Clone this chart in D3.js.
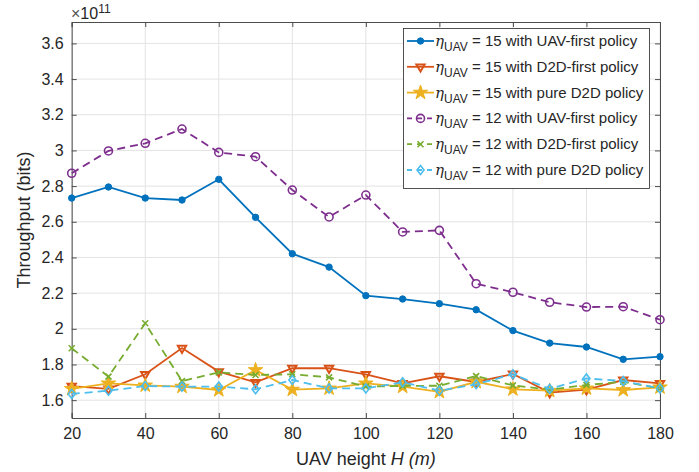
<!DOCTYPE html>
<html><head><meta charset="utf-8">
<script src="https://cdn.jsdelivr.net/npm/d3@7"></script>
<style>body{margin:0;background:#fff}svg{display:block}text{font-family:"Liberation Sans",Arial,sans-serif}</style>
</head><body><svg id="c" width="699" height="472"></svg>
<script>
const heights = [20,30,40,50,60,70,80,90,100,110,120,130,140,150,160,170,180];
const uav15 = [2.733,2.795,2.733,2.722,2.838,2.625,2.421,2.346,2.186,2.167,2.141,2.107,1.99,1.92,1.898,1.829,1.844];
const d2d15 = [1.679,1.663,1.745,1.892,1.76,1.70,1.779,1.779,1.745,1.694,1.734,1.702,1.747,1.642,1.659,1.713,1.694];
const pure15 = [1.663,1.694,1.683,1.676,1.657,1.769,1.659,1.666,1.694,1.676,1.647,1.703,1.661,1.653,1.666,1.657,1.672];
const uav12 = [2.872,2.997,3.04,3.12,2.989,2.965,2.778,2.627,2.75,2.543,2.552,2.253,2.205,2.149,2.122,2.124,2.051];
const d2d12 = [1.891,1.732,2.031,1.707,1.756,1.741,1.745,1.728,1.676,1.68,1.681,1.735,1.683,1.659,1.685,1.703,1.666];
const pure12 = [1.635,1.653,1.679,1.676,1.676,1.661,1.713,1.666,1.666,1.70,1.653,1.689,1.745,1.663,1.722,1.707,1.666];
const xTicks = [20,40,60,80,100,120,140,160,180];
const yTicks = [1.6,1.8,2,2.2,2.4,2.6,2.8,3,3.2,3.4,3.6];
const seriesNames = ["15 with UAV-first policy","15 with D2D-first policy","15 with pure D2D policy","12 with UAV-first policy","12 with D2D-first policy","12 with pure D2D policy"];

const series = [
  {v:uav15, c:"#0072BD", dash:null, m:"dot"},
  {v:d2d15, c:"#D95319", dash:null, m:"tri"},
  {v:pure15, c:"#EDB120", dash:null, m:"star"},
  {v:uav12, c:"#7E2F8E", dash:"8,5", m:"circle"},
  {v:d2d12, c:"#77AC30", dash:"8,5", m:"x"},
  {v:pure12, c:"#4DBEEE", dash:"8,5", m:"diamond"}
];

const svg = d3.select("#c");
const L=71.7, R=660, T=22, B=418;
const x = d3.scaleLinear().domain([20,180]).range([L,R]);
const y = d3.scaleLinear().domain([1.5,3.72]).range([B,T]);
const axisCol="#4d4d4d", textCol="#262626";

// grid
const g = svg.append("g");
g.selectAll(".gx").data(xTicks).join("line").attr("x1",d=>x(d)).attr("x2",d=>x(d)).attr("y1",T).attr("y2",B).attr("stroke","#e3e3e3").attr("stroke-width",1);
g.selectAll(".gy").data(yTicks).join("line").attr("x1",L).attr("x2",R).attr("y1",d=>y(d)).attr("y2",d=>y(d)).attr("stroke","#e3e3e3").attr("stroke-width",1);

// axes
const fmt = d=>String(+d.toFixed(1));
const ax = svg.append("g").attr("transform",`translate(0,${B})`).call(d3.axisBottom(x).tickValues(xTicks).tickSize(-5).tickPadding(10).tickFormat(d3.format("d")));
const ax2 = svg.append("g").attr("transform",`translate(0,${T})`).call(d3.axisTop(x).tickValues(xTicks).tickSize(-5).tickFormat(""));
const ay = svg.append("g").attr("transform",`translate(${L},0)`).call(d3.axisLeft(y).tickValues(yTicks).tickSize(-5).tickPadding(8).tickFormat(fmt));
const ay2 = svg.append("g").attr("transform",`translate(${R},0)`).call(d3.axisRight(y).tickValues(yTicks).tickSize(-5).tickFormat(""));
[ax,ax2,ay,ay2].forEach(a=>{
  a.select(".domain").attr("stroke",axisCol).attr("stroke-width",1);
  a.selectAll(".tick line").attr("stroke",axisCol);
  a.selectAll(".tick text").attr("fill",textCol).style("font-size","16px").style("font-family","'Liberation Sans',Arial,sans-serif");
});

// exponent
const ex = svg.append("text").attr("x",71).attr("y",19).attr("fill",textCol).style("font-size","16px");
ex.append("tspan").style("fill","#555").text("×");
ex.append("tspan").text("10");
ex.append("tspan").attr("dy",-6).style("font-size","12px").text("11");

// axis labels
svg.append("text").attr("transform",`translate(30,${(T+B)/2}) rotate(-90)`).attr("text-anchor","middle").attr("fill",textCol).style("font-size","18px").text("Throughput (bits)");
const xl = svg.append("text").attr("x",(L+R)/2).attr("y",465).attr("text-anchor","middle").attr("fill",textCol).style("font-size","18px");
xl.append("tspan").text("UAV height ");
xl.append("tspan").style("font-style","italic").text("H");
xl.append("tspan").style("font-style","italic").text(" (m)");

// markers
function marker(sel, m, c){
  if(m==="dot") sel.append("circle").attr("r",3.2).attr("fill",c).attr("stroke",c);
  else if(m==="tri") sel.append("path").attr("d",d3.symbol(d3.symbolTriangle,30)).attr("transform","rotate(180)").attr("fill","none").attr("stroke",c).attr("stroke-width",2);
  else if(m==="star") sel.append("path").attr("d",d3.symbol(d3.symbolStar,65)).attr("fill",c).attr("stroke",c).attr("stroke-width",1);
  else if(m==="circle") sel.append("circle").attr("r",4).attr("fill","none").attr("stroke",c).attr("stroke-width",1.6);
  else if(m==="x") sel.append("path").attr("d","M-3,-3L3,3M-3,3L3,-3").attr("stroke",c).attr("stroke-width",1.6);
  else if(m==="diamond") sel.append("path").attr("d","M0,-4.5L3.5,0L0,4.5L-3.5,0Z").attr("fill","none").attr("stroke",c).attr("stroke-width",1.6);
}

const line = d3.line().x((d,i)=>x(heights[i])).y(d=>y(d));
const plot = svg.append("g");
series.forEach(s=>{
  plot.append("path").datum(s.v).attr("d",line).attr("fill","none").attr("stroke",s.c).attr("stroke-width",1.8).attr("stroke-dasharray",s.dash);
  s.v.forEach((v,i)=>{
    const mg = plot.append("g").attr("transform",`translate(${x(heights[i])},${y(v)})`);
    marker(mg,s.m,s.c);
  });
});

// legend
const lg = svg.append("g");
lg.append("rect").attr("x",403.5).attr("y",28.5).attr("width",246).attr("height",160).attr("fill","#fff").attr("stroke","#262626").attr("stroke-width",0.8);
series.forEach((s,i)=>{
  const yy = 41 + i*25.8;
  lg.append("line").attr("x1",407).attr("x2",434).attr("y1",yy).attr("y2",yy).attr("stroke",s.c).attr("stroke-width",1.8).attr("stroke-dasharray",s.dash?"5,5":null);
  const mg = lg.append("g").attr("transform",`translate(420.5,${yy})`);
  marker(mg,s.m,s.c);
  const t = lg.append("text").attr("x",435).attr("y",yy+5).attr("fill",textCol).style("font-size","15px");
  t.append("tspan").style("font-family","'DejaVu Serif',serif").style("font-style","italic").style("font-size","15px").text("η");
  t.append("tspan").attr("dy",5).style("font-size","12px").text("UAV");
  t.append("tspan").attr("dy",-5).text(" = "+seriesNames[i]);
});
</script></body></html>
